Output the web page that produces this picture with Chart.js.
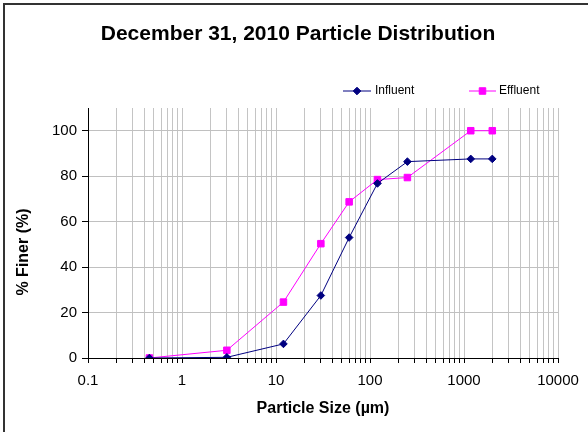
<!DOCTYPE html>
<html>
<head>
<meta charset="utf-8">
<script src="https://cdn.jsdelivr.net/npm/chart.js@4.4.1/dist/chart.umd.min.js"></script>
<style>
  body { margin: 0; background: #fff; overflow: hidden; }
  #wrap { position: relative; width: 588px; height: 432px; }
  #frame { position: absolute; left: 3px; top: 3px; width: 700px; height: 700px;
           border-left: 2px solid #333; border-top: 2px solid #333; pointer-events: none; }
</style>
</head>
<body>
<div id="wrap">
  <canvas id="myChart1" width="588" height="432"></canvas>
  <div id="frame"></div>
</div>
<script>
var titleText = 'December 31, 2010 Particle Distribution';
var xTitle = 'Particle Size (\u00b5m)';
var yTitle = '% Finer (%)';
var seriesNames = ['Influent', 'Effluent'];

// particle sizes (um)
var sizes = [0.45, 3, 12, 30, 60, 120, 250, 1180, 2000];
var influent = [0, 0.3, 6.2, 27.5, 53, 76.8, 86.4, 87.6, 87.6];
var effluent = [0, 3.4, 24.6, 50.3, 68.7, 78.5, 79.4, 100, 100];

var xDecades = [0.1, 1, 10, 100, 1000, 10000];
var yTicks = [0, 20, 40, 60, 80, 100];

function init() {
  printChart1();
}

function toPoints(xs, ys) {
  var pts = [];
  for (var i = 0; i < xs.length; i++) {
    pts.push({x: xs[i], y: ys[i]});
  }
  return pts;
}

// 1..9 per decade, like excel log gridlines
function logTicks() {
  var t = [];
  for (var d = 0; d < xDecades.length - 1; d++) {
    for (var m = 1; m <= 9; m++) {
      t.push({value: parseFloat((m * xDecades[d]).toPrecision(6))});
    }
  }
  t.push({value: xDecades[xDecades.length - 1]});
  return t;
}

function isDecade(v) {
  for (var i = 0; i < xDecades.length; i++) {
    if (Math.abs(v - xDecades[i]) < 1e-9 * xDecades[i]) return true;
  }
  return false;
}

var extras = {
  id: 'extras',
  afterDraw: function (chart) {
    var ctx = chart.ctx;
    var ds = chart.data.datasets;
    var spots = [{x0: 343, x1: 371, tx: 375}, {x0: 469, x1: 496, tx: 499}];
    var y = 91;
    ctx.save();
    // chart title
    ctx.fillStyle = '#000';
    ctx.font = 'bold 21px "Liberation Sans", Arial, sans-serif';
    ctx.textAlign = 'center';
    ctx.textBaseline = 'middle';
    ctx.fillText(titleText, 298, 34);
    // legend
    for (var i = 0; i < ds.length; i++) {
      var s = spots[i];
      ctx.strokeStyle = ds[i].borderColor;
      ctx.fillStyle = ds[i].backgroundColor;
      ctx.lineWidth = 1;
      ctx.beginPath();
      ctx.moveTo(s.x0, y);
      ctx.lineTo(s.x1, y);
      ctx.stroke();
      Chart.helpers.drawPoint(ctx, {pointStyle: ds[i].pointStyle, radius: ds[i].pointRadius, borderWidth: 1},
        (s.x0 + s.x1) / 2, y);
      ctx.fillStyle = '#000';
      ctx.font = '12px "Liberation Sans", Arial, sans-serif';
      ctx.textAlign = 'left';
      ctx.textBaseline = 'middle';
      ctx.fillText(ds[i].label, s.tx, y);
    }
    // y axis title
    ctx.translate(24, 252);
    ctx.rotate(-Math.PI / 2);
    ctx.font = 'bold 16px "Liberation Sans", Arial, sans-serif';
    ctx.textAlign = 'center';
    ctx.fillText(yTitle, 0, 0);
    ctx.restore();
  }
};

function printChart1() {
  var ctx = document.getElementById('myChart1').getContext('2d');
  var font = '"Liberation Sans", Arial, sans-serif';
  var chart = new Chart(ctx, {
    type: 'scatter',
    data: {
      datasets: [{
        label: seriesNames[0],
        data: toPoints(sizes, influent),
        showLine: true,
        borderColor: '#000080',
        backgroundColor: '#000080',
        borderWidth: 1,
        pointStyle: 'rectRot',
        pointRadius: 3.8,
        pointHoverRadius: 3.8
      }, {
        label: seriesNames[1],
        data: toPoints(sizes, effluent),
        showLine: true,
        borderColor: '#ff00ff',
        backgroundColor: '#ff00ff',
        borderWidth: 1,
        pointStyle: 'rect',
        pointRadius: 4.6,
        pointHoverRadius: 4.6
      }]
    },
    options: {
      responsive: false,
      animation: false,
      devicePixelRatio: 1,
      layout: {padding: {left: 0, right: 30, top: 108, bottom: 10}},
      plugins: {
        legend: {display: false},
        tooltip: {enabled: false},
        title: {display: false}
      },
      scales: {
        x: {
          type: 'logarithmic',
          min: 0.1,
          max: 10000,
          afterBuildTicks: function (scale) { scale.ticks = logTicks(); },
          afterFit: function (scale) { scale.height = 64; },
          ticks: {
            autoSkip: false,
            maxRotation: 0,
            padding: 9,
            color: '#000',
            font: {family: font, size: 15},
            callback: function (v) { return isDecade(v) ? String(v) : ''; }
          },
          grid: {color: '#c4c4c4', lineWidth: 1, tickLength: 5, tickColor: '#000'},
          border: {color: '#000', width: 1},
          title: {display: true, text: xTitle, color: '#000',
                  font: {family: font, size: 16, weight: 'bold'}, padding: {top: 4, bottom: 4}}
        },
        y: {
          min: 0,
          max: 110,
          afterBuildTicks: function (scale) {
            scale.ticks = yTicks.map(function (v) { return {value: v}; });
          },
          afterFit: function (scale) { scale.width = 88; },
          ticks: {
            padding: 5,
            color: '#000',
            font: {family: font, size: 15}
          },
          grid: {color: '#c0c0c0', lineWidth: 1, tickLength: 6, tickColor: '#000'},
          border: {color: '#000', width: 1}
        }
      }
    },
    plugins: [extras]
  });
}

init();
</script>
</body>
</html>
